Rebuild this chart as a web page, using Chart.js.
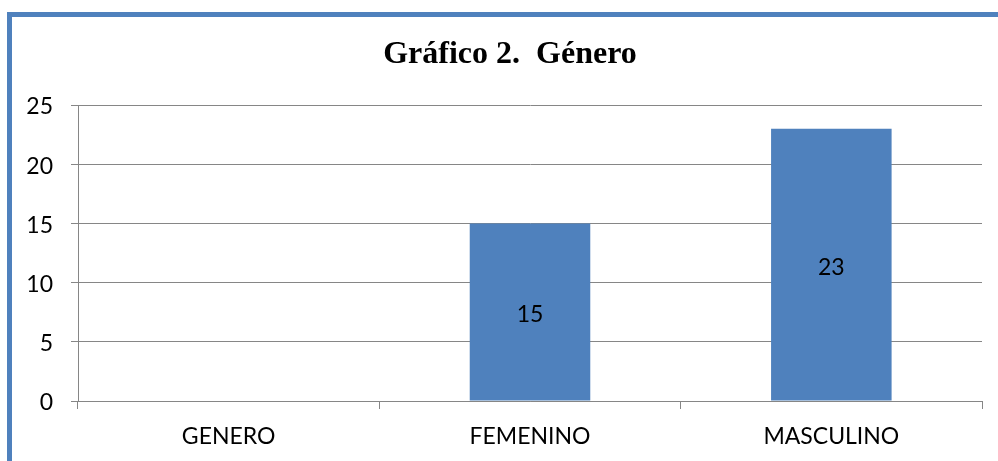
<!DOCTYPE html>
<html>
<head>
<meta charset="utf-8">
<script src="https://cdn.jsdelivr.net/npm/chart.js@4.4.1/dist/chart.umd.min.js"></script>
<style>
  html, body { margin: 0; padding: 0; background: #ffffff; overflow: hidden; }
  #wrap { position: relative; width: 998px; height: 461px; }
  #frame { position: absolute; left: 7px; top: 12px; width: 1200px; height: 800px;
           border: 5px solid #4F81BD; box-sizing: border-box; background: #ffffff; }
  canvas { position: absolute; left: 0; top: 0; }
</style>
</head>
<body>
<div id="wrap">
  <div id="frame"></div>
  <canvas id="c" width="998" height="461"></canvas>
</div>
<script>
const categories = ['GENERO', 'FEMENINO', 'MASCULINO'];
const counts = [null, 15, 23];
const yTicks = [0, 5, 10, 15, 20, 25];
const chartTitle = 'Gráfico 2.  Género';

const barColor = '#4F81BD';
const gridColor = '#868686';
const labelFont = { family: 'Lato', size: 23 };

const barValueLabels = {
  id: 'barValueLabels',
  afterDatasetsDraw(chart) {
    const ctx = chart.ctx;
    const meta = chart.getDatasetMeta(0);
    ctx.save();
    ctx.fillStyle = '#000000';
    ctx.font = labelFont.size + 'px ' + labelFont.family;
    ctx.textAlign = 'center';
    ctx.textBaseline = 'middle';
    meta.data.forEach((bar, i) => {
      const v = chart.data.datasets[0].data[i];
      if (v === null || v === undefined) return;
      const p = bar.getProps(['x', 'y', 'base'], true);
      ctx.fillText(String(v), p.x, (p.y + p.base) / 2 + 3);
    });
    ctx.restore();
  }
};

// Excel centres the title on the whole (wider) chart frame
const titleCentering = {
  id: 'titleCentering',
  afterLayout(chart) {
    const t = chart.titleBlock;
    if (t) { t.left = 22; t.right = chart.width; }
  }
};

new Chart(document.getElementById('c'), {
  type: 'bar',
  data: {
    labels: categories,
    datasets: [{
      data: counts,
      backgroundColor: barColor,
      borderWidth: 0,
      barPercentage: 0.4,
      categoryPercentage: 1.0
    }]
  },
  options: {
    responsive: false,
    animation: false,
    devicePixelRatio: 1,
    layout: { padding: { left: 0, right: 16, top: 0, bottom: 0 } },
    plugins: {
      legend: { display: false },
      tooltip: { enabled: false },
      title: {
        display: true,
        text: chartTitle,
        color: '#000000',
        font: { family: 'Liberation Serif', size: 32, weight: 'bold', lineHeight: 1.2 },
        padding: { top: 36, bottom: 30.6 }
      }
    },
    scales: {
      x: {
        grid: {
          display: true,
          offset: true,
          drawOnChartArea: false,
          drawTicks: true,
          tickLength: 8,
          color: gridColor
        },
        border: { display: true, color: gridColor, width: 1 },
        ticks: { color: '#000000', font: labelFont, padding: 14, maxRotation: 0 },
        afterFit(scale) { scale.height = 60; }
      },
      y: {
        min: 0,
        max: 25,
        afterBuildTicks(scale) { scale.ticks = yTicks.map(v => ({ value: v })); },
        grid: {
          display: true,
          drawOnChartArea: true,
          drawTicks: true,
          tickLength: 7,
          color: gridColor
        },
        border: { display: true, color: gridColor, width: 1 },
        ticks: { color: '#000000', font: labelFont, padding: 18, labelOffset: 2 },
        afterFit(scale) { scale.width = 78; }
      }
    }
  },
  plugins: [barValueLabels, titleCentering]
});
</script>
</body>
</html>
